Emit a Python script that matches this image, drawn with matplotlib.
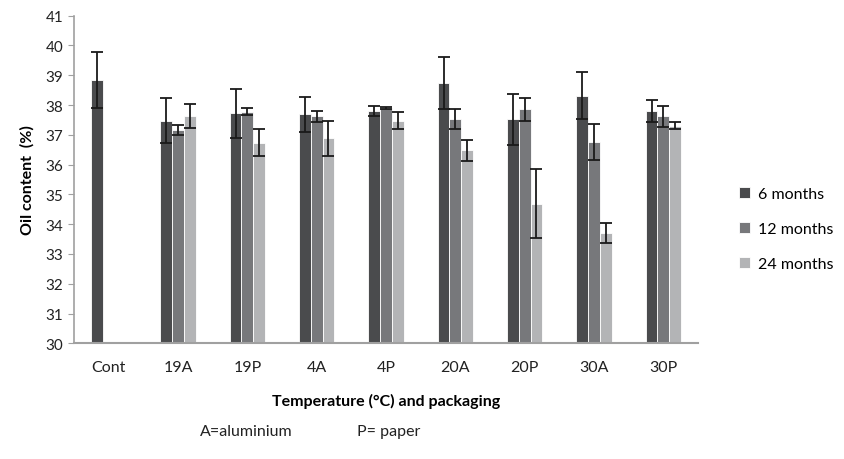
import numpy as np
import matplotlib.pyplot as plt

plt.rcParams['font.family'] = ['Lato', 'DejaVu Sans']

cats = ['Cont', '19A', '19P', '4A', '4P', '20A', '20P', '30A', '30P']
m6 = [38.84, 37.47, 37.72, 37.69, 37.80, 38.74, 37.52, 38.31, 37.80]
m12 = [0, 37.16, 37.77, 37.62, 37.91, 37.54, 37.86, 36.75, 37.62]
m24 = [0, 37.63, 36.73, 36.88, 37.47, 36.48, 34.68, 33.71, 37.30]
e6 = [0.93, 0.75, 0.82, 0.58, 0.18, 0.87, 0.85, 0.79, 0.37]
e12 = [0, 0.17, 0.12, 0.18, 0.03, 0.34, 0.39, 0.61, 0.35]
e24 = [0, 0.40, 0.45, 0.59, 0.29, 0.36, 1.16, 0.34, 0.12]
labels = ['6 months', '12 months', '24 months']
colors = ['#4a4b4d', '#77787b', '#b3b4b6']

fig = plt.figure(figsize=(8.45, 4.6), dpi=100)
ax = fig.add_axes([0.0876, 0.2515, 0.7384, 0.7122])

x = np.arange(len(cats))
w = 0.17
series = [(m6, e6), (m12, e12), (m24, e24)]
for i, (vals, errs) in enumerate(series):
    pos = x + (i - 1) * w
    v = np.array(vals, dtype=float)
    e = np.array(errs, dtype=float)
    mask = v > 0
    ax.bar(pos[mask], v[mask] - 30, w, bottom=30, color=colors[i],
           edgecolor='white', linewidth=0.6, label=labels[i])
    ax.errorbar(pos[mask], v[mask], yerr=e[mask], fmt='none', ecolor='#1a1a1a',
                elinewidth=1.3, capsize=4, capthick=1.3)

ax.set_ylim(30, 41)
ax.set_xlim(-0.5, len(cats) - 0.5)
ax.set_yticks(range(30, 42))
ax.set_xticks(x)
ax.set_xticklabels(cats)
for s in ['top', 'right']:
    ax.spines[s].set_visible(False)
ax.spines['left'].set_color('#a0a0a0')
ax.spines['bottom'].set_color('#a0a0a0')
ax.spines['left'].set_linewidth(1.2)
ax.spines['bottom'].set_linewidth(1.5)
ax.tick_params(axis='y', colors='#a0a0a0', labelcolor='#222222', labelsize=11, length=4)
ax.tick_params(axis='x', length=0, labelsize=11.5, labelcolor='#222222', pad=12)

ax.set_ylabel('Oil content  (%)', fontsize=11.5, fontweight='bold', labelpad=8)
ax.set_xlabel('Temperature (°C) and packaging', fontsize=11.5, fontweight='bold', labelpad=14)

ax.legend(loc='center left', bbox_to_anchor=(0.857, 0.5), bbox_transform=fig.transFigure,
          frameon=False, fontsize=11.5,
          handlelength=0.7, handleheight=0.7, handletextpad=0.5, labelspacing=1.3)

fig.text(0.237, 0.061, 'A=aluminium', fontsize=11.5, color='#222222', va='center')
fig.text(0.422, 0.061, 'P= paper', fontsize=11.5, color='#222222', va='center')

fig.savefig('out.png', dpi=100)
